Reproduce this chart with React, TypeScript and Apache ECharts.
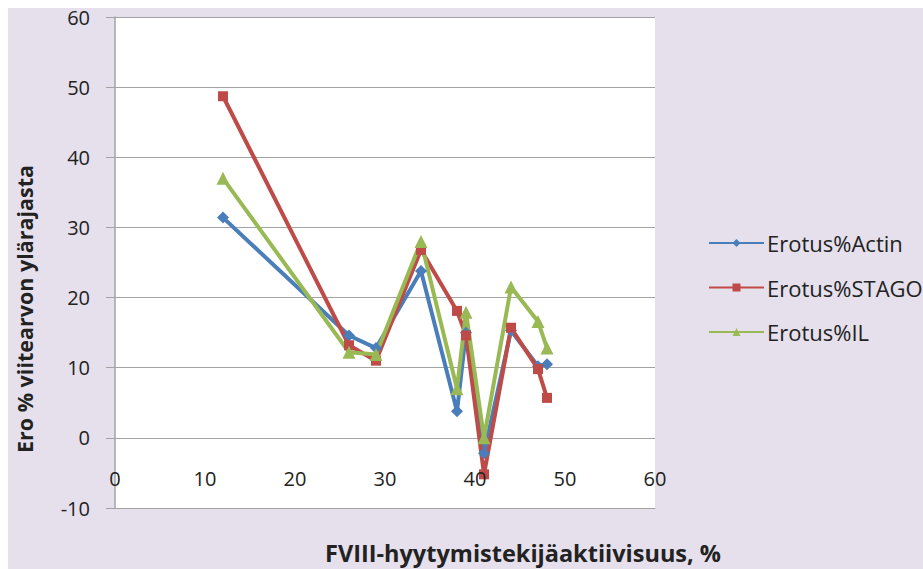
import React, { useEffect, useRef } from "react";
import * as echarts from "echarts";

// FVIII activity levels (%) at which the three reagents were compared
const activity = [12, 26, 29, 34, 38, 39, 41, 44, 47, 48];

// Difference (%) from the upper limit of the reference range
const actin = [31.4, 14.6, 12.8, 23.8, 3.8, 15.0, -2.2, 15.3, 10.2, 10.5];
const stago = [48.7, 13.2, 11.0, 26.8, 18.1, 14.6, -5.2, 15.7, 9.8, 5.7];
const il = [37.0, 12.2, 11.9, 28.0, 7.0, 17.9, 0.0, 21.5, 16.6, 12.8];

// Horizontal tick labels, printed just under the zero line
const xTicks = [0, 10, 20, 30, 40, 50, 60];

const seriesNames = ["Erotus%Actin", "Erotus%STAGO", "Erotus%IL"];
const seriesColors = ["#4A7EBB", "#BE4B48", "#98B954"];
const seriesSymbols = ["diamond", "rect", "triangle"];
const symbolSizes = [12, 10, 13];

const xTitle = "FVIII-hyytymistekijäaktiivisuus, %";
const yTitle = "Ero % viitearvon ylärajasta";

const FONT = "'Open Sans', sans-serif";
const TEXT = "#222222";
const GRID = "#a3a3a3";

const PLOT = { left: 115, top: 17, width: 540, height: 491 };
const Y_MIN = -10;
const Y_MAX = 60;

export default function App() {
  const ref = useRef<HTMLDivElement>(null);

  useEffect(() => {
    if (!ref.current) return;
    const chart = echarts.init(ref.current, undefined, { renderer: "svg" });
    const values = [actin, stago, il];

    chart.setOption({
      animation: false,
      backgroundColor: "#ffffff",
      textStyle: { fontFamily: FONT },
      grid: { ...PLOT, show: false },
      legend: {
        orient: "vertical",
        left: 703,
        top: 227,
        itemWidth: 55,
        itemHeight: 10,
        itemGap: 22.5,
        data: seriesNames,
        textStyle: {
          fontFamily: FONT,
          fontSize: 22,
          lineHeight: 22,
          color: TEXT,
          padding: [0, 0, 0, -2],
        },
      },
      xAxis: {
        type: "value",
        min: 0,
        max: 60,
        interval: 10,
        axisLine: { show: true, onZero: false, lineStyle: { color: GRID, width: 1 } },
        axisTick: { show: false },
        splitLine: { show: false },
        axisLabel: { show: false },
      },
      yAxis: {
        type: "value",
        min: Y_MIN,
        max: Y_MAX,
        interval: 10,
        axisLine: { show: true, onZero: false, lineStyle: { color: GRID, width: 1.5 } },
        axisTick: { show: true, inside: false, length: 9, lineStyle: { color: GRID, width: 1 } },
        splitLine: { show: true, lineStyle: { color: GRID, width: 1 } },
        axisLabel: {
          margin: 25,
          fontFamily: FONT,
          fontSize: 20,
          color: TEXT,
          showMinLabel: true,
          showMaxLabel: true,
        },
      },
      series: seriesNames.map((name, i) => ({
        name,
        type: "line",
        z: 3,
        data: activity.map((x, j) => [x, values[i][j]]),
        symbol: seriesSymbols[i],
        symbolSize: symbolSizes[i],
        showSymbol: true,
        color: seriesColors[i],
        lineStyle: { width: 4, color: seriesColors[i] },
        itemStyle: { color: seriesColors[i] },
      })),
    });

    // tick labels of the horizontal axis, placed through the axis scale
    const tickLabels = xTicks.map((t, k) => {
      const [px, py] = chart.convertToPixel({ gridIndex: 0 }, [t, 0]) as number[];
      return {
        type: "text",
        id: "xtick" + k,
        z: 100,
        x: px,
        y: py + 40.7,
        silent: true,
        style: {
          text: String(t),
          fontFamily: FONT,
          fontSize: 20,
          fill: TEXT,
          align: "center",
          verticalAlign: "middle",
        },
      };
    });

    chart.setOption({
      graphic: [
        {
          type: "rect",
          id: "page",
          z: -20,
          silent: true,
          shape: { x: 8, y: 8, width: 915, height: 561 },
          style: { fill: "#E5E0EC" },
        },
        {
          type: "rect",
          id: "plot",
          z: -10,
          silent: true,
          shape: { x: PLOT.left, y: PLOT.top, width: PLOT.width, height: PLOT.height },
          style: { fill: "#ffffff" },
        },
        {
          type: "text",
          id: "ytitle",
          x: 24,
          y: 309,
          rotation: Math.PI / 2,
          style: {
            text: yTitle,
            fontFamily: FONT,
            fontSize: 21.5,
            fontWeight: "bold",
            fill: TEXT,
            align: "center",
            verticalAlign: "middle",
          },
        },
        {
          type: "text",
          id: "xtitle",
          x: 523,
          y: 553,
          style: {
            text: xTitle,
            fontFamily: FONT,
            fontSize: 23.5,
            fontWeight: "bold",
            fill: TEXT,
            align: "center",
            verticalAlign: "middle",
          },
        },
        ...tickLabels,
      ],
    });

    return () => chart.dispose();
  }, []);

  return (
    <div
      ref={ref}
      style={{ position: "fixed", left: 0, top: 0, width: 923, height: 569 }}
    />
  );
}
